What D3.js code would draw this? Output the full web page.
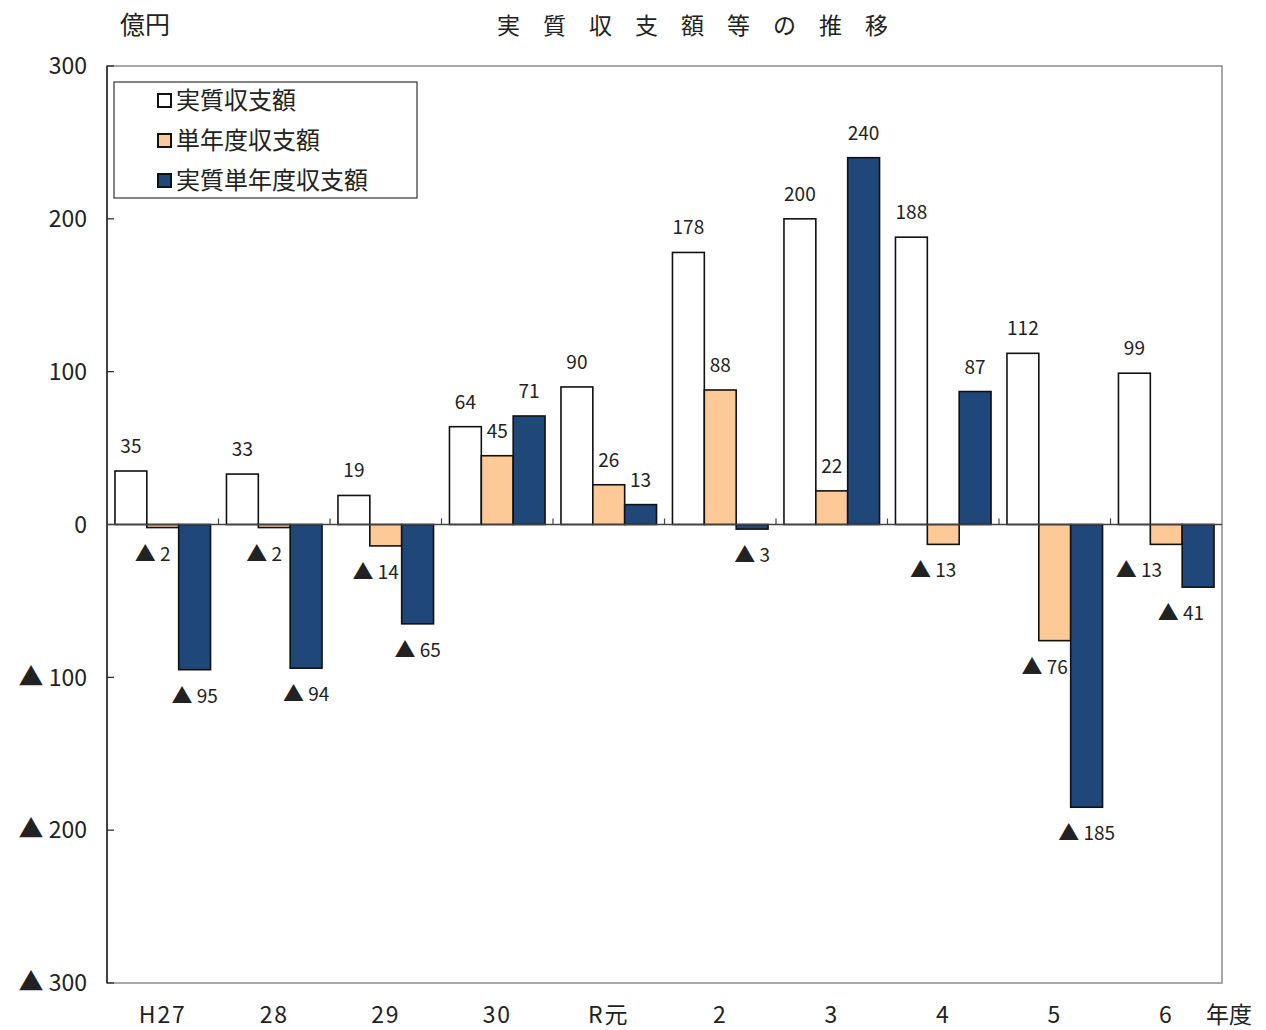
<!DOCTYPE html>
<html>
<head>
<meta charset="utf-8">
<script src="https://cdn.jsdelivr.net/npm/d3@7"></script>
<style>
  body { margin: 0; background: #fff; }
  svg text { font-family: "Noto Sans CJK JP", "DejaVu Sans", sans-serif; fill: #222; }
</style>
</head>
<body>
<svg id="chart" width="1266" height="1030"></svg>
<script>
// Data
const years = ['H27', '28', '29', '30', 'R元', '2', '3', '4', '5', '6'];
const seriesNames = ['実質収支額', '単年度収支額', '実質単年度収支額'];
const jisshitsu = [35, 33, 19, 64, 90, 178, 200, 188, 112, 99];
const tannendo = [-2, -2, -14, 45, 26, 88, 22, -13, -76, -13];
const jisshitsuTannendo = [-95, -94, -65, 71, 13, -3, 240, 87, -185, -41];
const yTicks = [300, 200, 100, 0, -100, -200, -300];

const colors = ['#ffffff', '#fdca97', '#1f477a'];
const values = [jisshitsu, tannendo, jisshitsuTannendo];

const svg = d3.select('#chart');
const m = { t: 66, r: 44, b: 47, l: 107 }; // plot margins
const W = 1266, H = 1030;

const x = d3.scaleBand().domain(years).range([m.l, W - m.r]).paddingInner(0).paddingOuter(0);
const xs = d3.scaleBand().domain(d3.range(3)).range([0, x.bandwidth()]).paddingInner(0).paddingOuter(0.25);
const y = d3.scaleLinear().domain([-300, 300]).range([H - m.b, m.t]);

// negative numbers shown with a triangle
function tri(sel, v, triSize) {
  sel.text(null);
  if (v < 0) {
    sel.append('tspan').attr('font-size', triSize).text('▲');
    sel.append('tspan').text(' ' + (-v));
  } else {
    sel.text(v);
  }
}

// Plot frame
svg.append('rect')
  .attr('x', m.l).attr('y', m.t)
  .attr('width', W - m.r - m.l).attr('height', H - m.b - m.t)
  .attr('fill', 'none').attr('stroke', '#8c8c8c').attr('stroke-width', 1.5);
svg.append('line')
  .attr('x1', m.l).attr('x2', m.l).attr('y1', m.t).attr('y2', H - m.b)
  .attr('stroke', '#222').attr('stroke-width', 1.5);

// Y axis ticks (inward) and labels
svg.append('g')
  .selectAll('line').data(yTicks).join('line')
  .attr('x1', m.l).attr('x2', m.l + 7)
  .attr('y1', d => y(d)).attr('y2', d => y(d))
  .attr('stroke', '#222').attr('stroke-width', 1.2);

svg.append('g')
  .selectAll('text').data(yTicks).join('text')
  .attr('x', 87).attr('y', d => y(d)).attr('dy', '0.36em')
  .attr('text-anchor', 'end')
  .attr('font-size', 23)
  .each(function(d) { tri(d3.select(this), d, 25); });

// Bars
const groups = svg.append('g').selectAll('g').data(years).join('g')
  .attr('transform', d => `translate(${x(d)},0)`);

groups.selectAll('rect')
  .data((d, i) => values.map((v, s) => ({ s, v: v[i] })))
  .join('rect')
  .attr('x', d => xs(d.s))
  .attr('width', xs.bandwidth())
  .attr('y', d => y(Math.max(0, d.v)))
  .attr('height', d => Math.abs(y(d.v) - y(0)))
  .attr('fill', d => colors[d.s])
  .attr('stroke', '#111').attr('stroke-width', 1.6);

// Zero line and category ticks
svg.append('line')
  .attr('x1', m.l).attr('x2', W - m.r).attr('y1', y(0)).attr('y2', y(0))
  .attr('stroke', '#444').attr('stroke-width', 1.3);
svg.append('g')
  .selectAll('line').data(years.slice(1)).join('line')
  .attr('x1', d => x(d)).attr('x2', d => x(d))
  .attr('y1', y(0)).attr('y2', y(0) - 6)
  .attr('stroke', '#444').attr('stroke-width', 1.2);

// Value labels
groups.selectAll('text.val')
  .data((d, i) => values.map((v, s) => ({ s, v: v[i] })))
  .join('text')
  .attr('class', 'val')
  .attr('x', d => xs(d.s) + xs.bandwidth() / 2 + (d.v < 0 && d.s === 1 ? -10 : 0))
  .attr('y', d => d.v >= 0 ? y(d.v) - 18 : y(d.v) + 33)
  .attr('text-anchor', 'middle')
  .attr('font-size', 19)
  .attr('fill', '#333')
  .each(function(d) { tri(d3.select(this), d.v, 21); });

// keep negative labels inside the plot frame, shift them left if needed
groups.each(function(g) {
  const neg = d3.select(this).selectAll('text.val').filter(d => d.v < 0);
  let over = 0;
  neg.each(function() {
    const b = this.getBoundingClientRect();
    over = Math.max(over, b.right - (W - m.r - 6));
  });
  if (over > 0) {
    neg.attr('x', function() { return +d3.select(this).attr('x') - over - 12; });
  }
});

// X labels
svg.append('g')
  .selectAll('text').data(years).join('text')
  .attr('x', d => x(d) + x.bandwidth() / 2)
  .attr('y', 1023)
  .attr('text-anchor', 'middle')
  .attr('font-size', 23)
  .attr('letter-spacing', '0.08em')
  .text(d => d);
svg.append('text').attr('x', 1229).attr('y', 1023)
  .attr('text-anchor', 'middle').attr('font-size', 23).text('年度');

// Unit and title
svg.append('text').attr('x', 120).attr('y', 34).attr('font-size', 25).text('億円');
svg.append('text').attr('x', 704).attr('y', 34).attr('text-anchor', 'middle')
  .attr('font-size', 23).attr('letter-spacing', 23).text('実質収支額等の推移');

// Legend
const lg = svg.append('g').attr('transform', 'translate(114,82)');
lg.append('rect').attr('width', 303).attr('height', 116)
  .attr('fill', '#fff').attr('stroke', '#333').attr('stroke-width', 1.2);
const li = lg.selectAll('g').data(seriesNames).join('g')
  .attr('transform', (d, i) => `translate(0,${18 + i * 40})`);
li.append('rect').attr('x', 44).attr('y', -6).attr('width', 13).attr('height', 13)
  .attr('fill', (d, i) => colors[i]).attr('stroke', '#111').attr('stroke-width', 2);
li.append('text').attr('x', 62).attr('y', 0).attr('dy', '0.36em')
  .attr('font-size', 24).attr('fill', '#222').text(d => d);
</script>
</body>
</html>
